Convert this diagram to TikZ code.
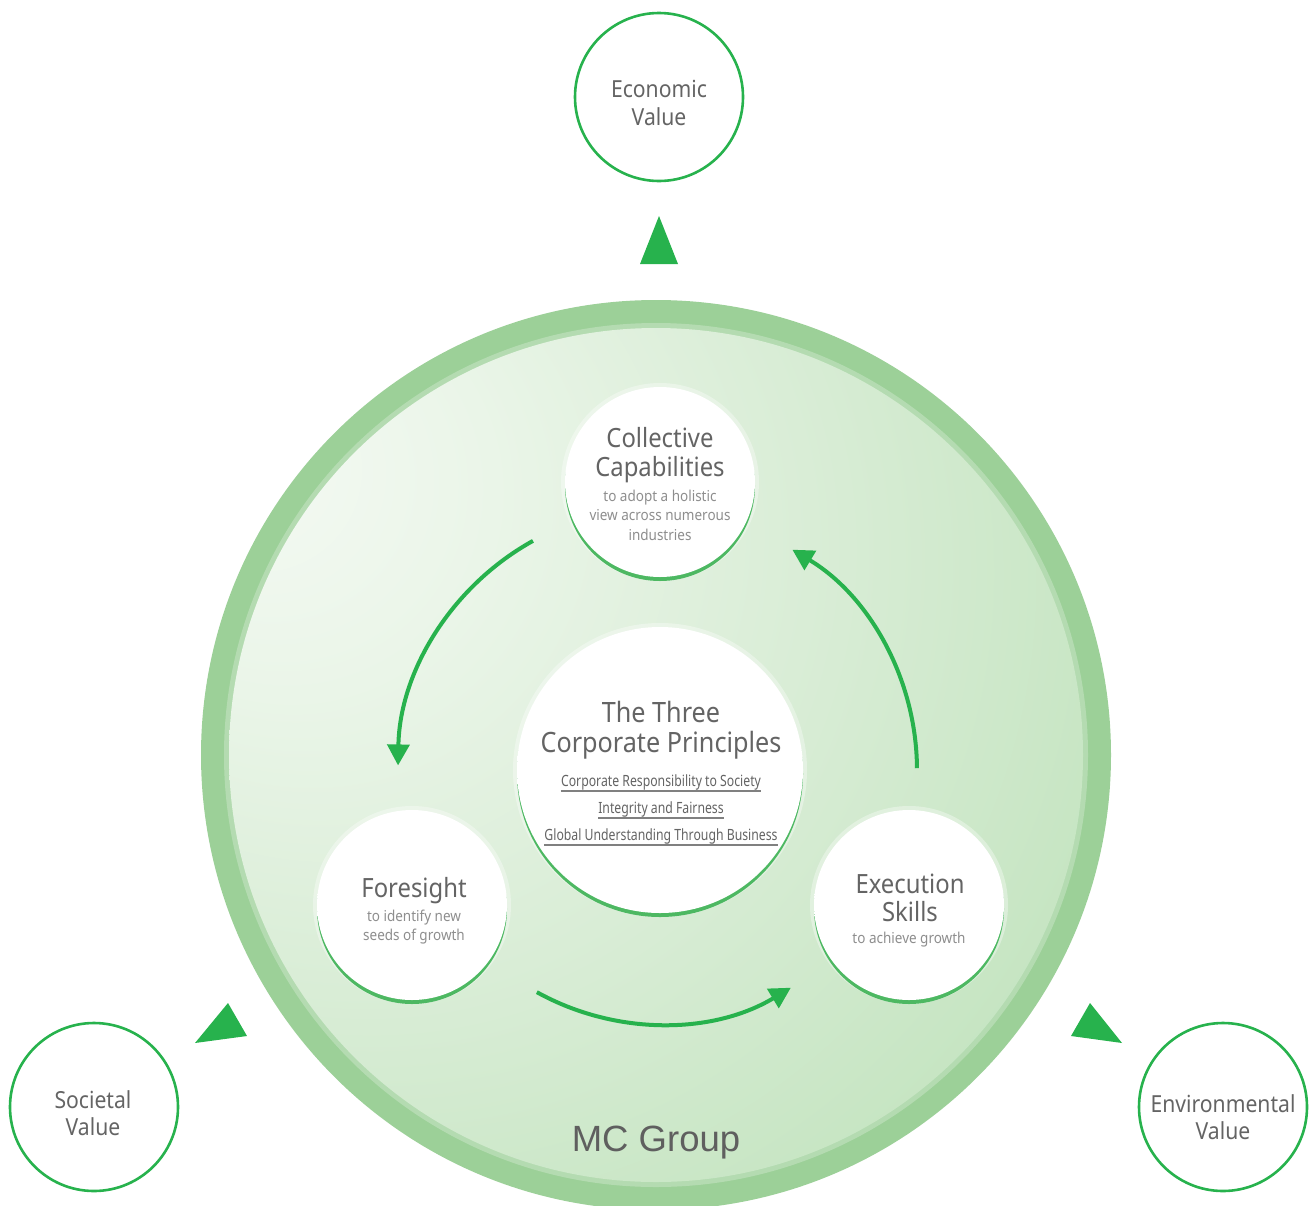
\documentclass[tikz,border=0pt]{standalone}
\usepackage{fontspec}
\setmainfont[FakeStretch=0.9]{Noto Sans}
\newfontfamily\condfont[FakeStretch=0.79]{Noto Sans}
\newfontfamily\mcfont{Liberation Sans}
\usetikzlibrary{arrows.meta}
\definecolor{mcgreen}{HTML}{27B24D}
\definecolor{rimgreen}{HTML}{9CD098}
\definecolor{txtgray}{HTML}{646464}
\definecolor{subgray}{HTML}{8E8E8E}
\definecolor{bubrim}{HTML}{4DB862}
\definecolor{bubedge}{HTML}{E6F3E3}
\definecolor{dA}{HTML}{F5FAF4}
\definecolor{dB}{HTML}{EAF5E8}
\definecolor{dC}{HTML}{D7ECD4}
\definecolor{dD}{HTML}{C1E3BD}
\definecolor{dE}{HTML}{AEDAAA}
\definecolor{dF}{HTML}{A3D5A0}
\pgfdeclareradialshading{discshade}{\pgfpoint{-25bp}{18bp}}{color(0bp)=(dA); color(12bp)=(dB); color(28bp)=(dC); color(45bp)=(dD); color(62bp)=(dE); color(85bp)=(dF)}
\pgfdeclareradialshading{bubshade}{\pgfpoint{0bp}{0bp}}{color(0bp)=(white); color(38bp)=(white); color(47bp)=(bubedge); color(50bp)=(bubedge)}
\newcommand\mybubble[4]{%
  \fill[white, opacity=0.35] (#2,#3) circle (#4pt+4pt);
  \fill[bubrim] (#2,#3+4) circle (#4pt);
  \node[bubble, minimum size=2*#4pt] (#1) at (#2,#3) {};
}
\begin{document}
\begin{tikzpicture}[x=1pt,y=-1pt,
  valuecirc/.style={circle, draw=mcgreen, line width=2.6pt, minimum size=168pt, inner sep=0pt},
  valuetxt/.style={text=txtgray, align=center, inner sep=0pt, font=\fontsize{23.5}{27.5}\selectfont},
  bubble/.style={circle, inner sep=0pt, shading=bubshade},
  head/.style={text=txtgray, align=center, font=\fontsize{26.5}{28.5}\selectfont, inner sep=0pt},
  sub/.style={text=subgray, align=center, font=\fontsize{15}{19.5}\selectfont, inner sep=0pt},
  item/.style={text=txtgray, font=\condfont\fontsize{15.5}{16}\selectfont, inner sep=0pt},
  uline/.style={draw=gray, line width=1.1pt},
  flow/.style={draw=mcgreen, line width=4pt, -{Triangle[length=21pt,width=22pt]}},
  tri/.style={fill=mcgreen}
]
\useasboundingbox (0,0) rectangle (1314,1205);
\begin{scope}
\clip (0,0) rectangle (1314,1205);
\fill[rimgreen] (656,755) circle (455pt);
\fill[white, opacity=0.25] (656,755) circle (432pt);
\shade[shading=discshade] (656,755) circle (427pt);
\end{scope}

% bubbles
\mybubble{col}{660}{482}{95}
\mybubble{cent}{660}{770}{143}
\mybubble{fore}{412}{905}{95}
\mybubble{exe}{909}{905}{95}

% flow arrows
\draw[flow] ([shift={(119:262pt)}]cent.center) arc[start angle=119, end angle=179, radius=262pt];
\draw[flow] ([shift={(241:254pt)}]cent.center) arc[start angle=241, end angle=301, radius=254pt];
\draw[flow] ([shift={(0.4:257pt)}]cent.center) arc[start angle=0.4, end angle=59, radius=257pt];

% bubble texts
\node[head] (colT) at (660,455) {Collective\\Capabilities};
\node[sub] (colS) at (660,515) {to adopt a holistic\\view across numerous\\industries};
\node[head, font=\fontsize{28}{30}\selectfont] (centT) at (661,730) {The Three\\Corporate Principles};
\node[item] (it1) at (661,782) {Corporate Responsibility to Society};
\node[item] (it2) at (661,809) {Integrity and Fairness};
\node[item] (it3) at (661,836) {Global Understanding Through Business};
\foreach \n in {it1,it2,it3}
  \draw[uline] ([yshift=-5pt]\n.base west) -- ([yshift=-5pt]\n.base east);
\node[head] (foreT) at (414,891) {Foresight};
\node[sub] (foreS) at (414,927) {to identify new\\seeds of growth};
\node[head] (exeT) at (910,898) {Execution\\Skills};
\node[sub] (exeS) at (909,940) {to achieve growth};

% MC Group
\node[text=txtgray!95!black, font=\mcfont\fontsize{36.5}{40}\selectfont, inner sep=0pt] (mc) at (656,1143) {MC Group};

% value circles
\node[valuecirc] (eco) at (659,97) {};
\node[valuetxt] (ecoT) at (659,103) {Economic\\Value};
\node[valuecirc] (soc) at (94,1107) {};
\node[valuetxt] (socT) at (93,1113) {Societal\\Value};
\node[valuecirc] (env) at (1223,1107) {};
\node[valuetxt] (envT) at (1223,1117) {Environmental\\Value};

% triangles
\fill[tri] (659,216) -- (640,264) -- (678,264) -- cycle;
\fill[tri] (228,1003) -- (195,1043) -- (247,1036) -- cycle;
\fill[tri] (1090,1003) -- (1071,1036) -- (1122,1043) -- cycle;
\end{tikzpicture}
\end{document}
